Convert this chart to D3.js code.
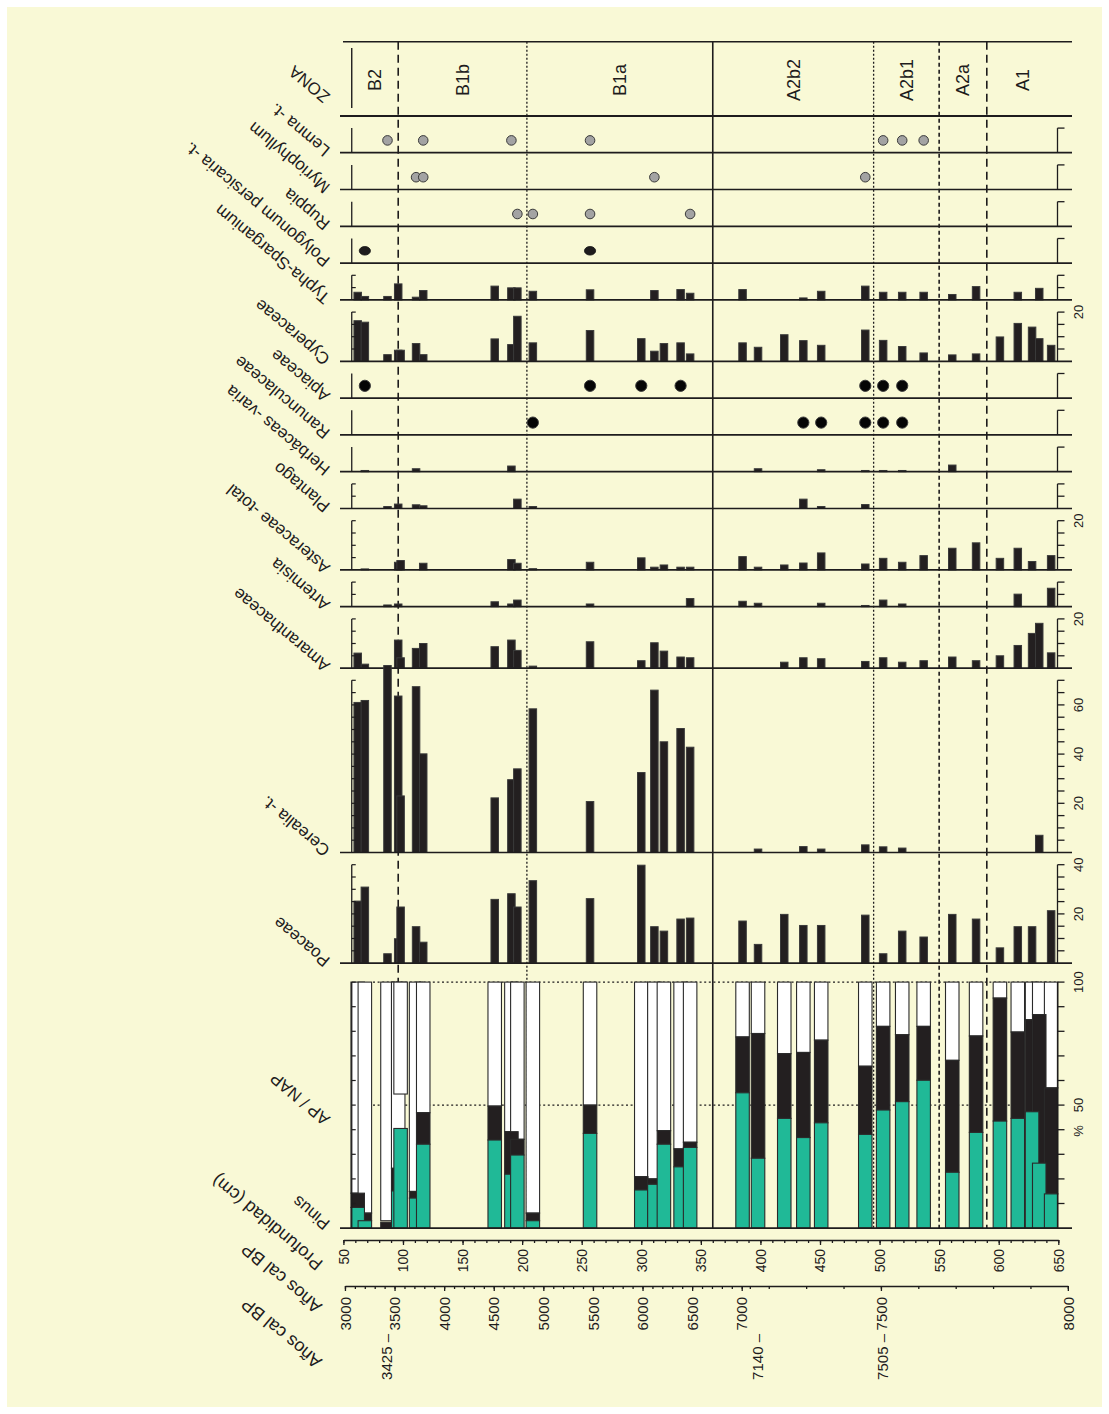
<!DOCTYPE html>
<html>
<head>
<meta charset="utf-8">
<script src="https://cdn.jsdelivr.net/npm/d3@7"></script>
<style>
  body { margin: 0; background: #ffffff; }
  svg { display: block; }
</style>
</head>
<body>
<svg id="chart" width="1109" height="1414"></svg>
<script>
// ---- Sample depths (cm) ----
const depths = [62,68,87,96,98,111,117,177,191,196,209,257,300,311,319,333,341,385,398,420,436,451,488,503,519,537,561,581,601,616,628,634,644];

// ---- Presence records (1 = present) ----
const lemna         = [0,0,1,0,0,0,1,0,1,0,0,1,0,0,0,0,0,0,0,0,0,0,0,1,1,1,0,0,0,0,0,0,0];
const myriophyllum  = [0,0,0,0,0,1,1,0,0,0,0,0,0,1,0,0,0,0,0,0,0,0,1,0,0,0,0,0,0,0,0,0,0];
const ruppia        = [0,0,0,0,0,0,0,0,0,1,1,1,0,0,0,0,1,0,0,0,0,0,0,0,0,0,0,0,0,0,0,0,0];
const polygonum     = [0,1,0,0,0,0,0,0,0,0,0,1,0,0,0,0,0,0,0,0,0,0,0,0,0,0,0,0,0,0,0,0,0];
const apiaceae      = [0,1,0,0,0,0,0,0,0,0,0,1,1,0,0,1,0,0,0,0,0,0,1,1,1,0,0,0,0,0,0,0,0];
const ranunculaceae = [0,0,0,0,0,0,0,0,0,0,1,0,0,0,0,0,0,0,0,0,1,1,1,1,1,0,0,0,0,0,0,0,0];

// ---- Percentages ----
const typha         = [3.1,1.4,1.4,6.5,0,1.1,3.8,5.6,4.9,4.9,3.5,4.1,0,3.8,0,4.2,2.7,4.2,0,0,0.8,3.5,5.6,3.1,3.1,3.1,2.2,5.4,0,3.1,0,4.7,0];
const cyperaceae    = [16.5,15.9,2.7,4.5,4.5,7.2,2.7,9.1,6.8,18.3,7.5,12.5,9.2,4.1,7.2,7.5,3.0,7.5,5.7,10.8,8.4,6.5,12.7,8.5,6.0,3.4,2.6,3.0,9.9,15.4,13.9,9.2,6.5];
const herbaceas     = [0,0.5,0,0,0,1.2,0,0,2.3,0,0,0,0,0,0,0,0,0,1.2,0,0,0.8,0.5,0.5,0.5,0,2.7,0,0,0,0,0,0];
const plantago      = [0,0,0.8,1.8,0,1.5,1.1,0,0,3.8,0.8,0,0,0,0,0,0,0,0,0,3.8,0.8,1.6,0,0,0,0,0,0,0,0,0,0];
const asteraceae    = [0,0.4,0,3.1,3.8,0,2.7,0,4.2,2.7,0.5,3.1,4.9,1.1,2.0,1.1,1.1,5.4,1.1,2.0,2.8,6.9,2.4,4.7,3.1,5.8,8.8,11.0,4.7,8.8,3.4,0,5.8];
const artemisia     = [0,0,0.7,1.1,0,0,0,2.0,1.1,2.7,0,1.1,0,0,0,0,3.3,2.2,1.4,0,0,1.4,0.5,2.7,1.1,0,0,0,0,5.1,0,0,7.5];
const amaranthaceae = [6.1,1.6,0,11.4,4.2,8.0,10.0,8.7,11.4,7.2,0.8,10.7,3.0,10.3,6.9,4.5,4.2,0,0,2.4,4.2,3.8,2.7,4.2,2.4,3.0,4.5,3.0,5.0,9.2,14.1,18.2,6.2];
const cerealia      = [61.0,61.8,76.0,63.6,23.0,67.4,40.1,22.2,29.6,34.0,58.4,20.7,32.5,66.0,45.0,50.4,42.8,0,1.4,0,2.4,1.4,3.1,2.3,1.8,0,0,0,0,0,0,7.0,0];
const poaceae       = [25.2,30.9,3.8,9.9,22.8,14.8,8.5,25.9,28.2,22.8,33.5,26.2,39.8,14.8,13.0,17.9,18.3,17.1,7.6,19.8,15.3,15.3,19.5,3.8,13.0,10.6,19.8,17.9,6.2,14.8,14.8,0,21.3];

// ---- AP / NAP (%) ----
const pinus   = [8.4,3.0,0,15.1,40.5,12.2,34.1,35.8,21.9,29.7,3.0,38.5,15.5,17.8,34.1,24.9,32.8,55.0,28.4,44.6,36.8,42.8,38.1,48.0,51.4,60.1,22.7,38.9,43.5,44.6,47.3,26.4,13.9];
const apTotal = [14.2,6.1,2.4,24.3,40.5,14.9,46.9,49.6,39.2,36.1,6.1,50.0,20.9,20.0,39.6,32.2,34.9,77.7,79.1,70.9,71.4,76.4,65.8,82.0,78.6,82.0,68.2,78.1,93.5,79.7,84.7,86.8,57.0];
const nap     = [85.8,93.9,97.0,75.7,45.5,85.1,53.1,50.4,60.8,63.9,93.9,50.0,79.1,80.0,60.4,67.8,65.1,22.3,20.9,29.1,28.6,23.6,34.2,18.0,21.4,18.0,31.8,21.9,6.5,20.3,15.3,13.2,43.0];

// ---- Zones ----
const zoneNames  = ["B2","B1b","B1a","A2b2","A2b1","A2a","A1"];
const zoneLimits = [96,204,360,495,550,590];
const zoneStyles = ["long","dotted","solid","dotted","short","long"];

// ---- Axis tick labels ----
const depthTicks = [50,100,150,200,250,300,350,400,450,500,550,600,650];
const ageTicks   = [3000,3500,4000,4500,5000,5500,6000,6500,7000,7500,8000];
const ageModelAge   = [3000,7000,7100,7200,8000];
const ageModelDepth = [51.3,384.3,391.1,407.0,658.0];
const dates = [3425,7140,7505];
const cyperaceaeTicks = [20];
const asteraceaeTicks = [20];
const amaranthTicks   = [20];
const cerealiaTicks   = [20,40,60];
const poaceaeTicks    = [20,40];
const apTicks         = [50,100];

// ---------------------------------------------------------------
const svg = d3.select("#chart");
const FONT = "'Liberation Sans', Arial, sans-serif";
const NARROW = "'Liberation Sans Narrow', 'Arial Narrow', 'Liberation Sans', sans-serif";
const INK = "#1e1c1d";
const TEAL = "#20b997";
const PAPER = "#f9f9d6";

svg.append("rect").attr("x", 7).attr("y", 7).attr("width", 1095).attr("height", 1400).attr("fill", PAPER);

const x = d3.scaleLinear().domain([50, 650]).range([343.4, 1058.3]);
const depthStart = 57;
const xL = x(depthStart);
const xR = 1057.5;
const lineL = 340, lineR = 1072;
const k = 2.46;          // pixels per percent
const gap = 12.2;

// panel definitions, top to bottom
const panels = [
  {label: "Lemna -t.", kind: "dot", values: lemna, max: 10, fill: "#a3a3a3"},
  {label: "Myriophyllum", kind: "dot", values: myriophyllum, max: 10, fill: "#a3a3a3"},
  {label: "Ruppia", kind: "dot", values: ruppia, max: 10, fill: "#a3a3a3"},
  {label: "Polygonum persicaria -t.", kind: "dot", values: polygonum, max: 10, fill: INK, ellipse: true},
  {label: "Typha-Sparganium", kind: "bar", values: typha, max: 10, step: 5},
  {label: "Cyperaceae", kind: "bar", values: cyperaceae, max: 20, step: 5, labels: cyperaceaeTicks},
  {label: "Apiaceae", kind: "dot", values: apiaceae, max: 10, fill: "#050505"},
  {label: "Ranunculaceae", kind: "dot", values: ranunculaceae, max: 10, fill: "#050505"},
  {label: "Herbáceas -varia", kind: "bar", values: herbaceas, max: 10},
  {label: "Plantago", kind: "bar", values: plantago, max: 10, step: 5},
  {label: "Asteraceae -total", kind: "bar", values: asteraceae, max: 20, step: 5, labels: asteraceaeTicks},
  {label: "Artemisia", kind: "bar", values: artemisia, max: 10, step: 5},
  {label: "Amaranthaceae", kind: "bar", values: amaranthaceae, max: 20, step: 5, labels: amaranthTicks},
  {label: "Cerealia -t.", kind: "bar", values: cerealia, max: 70, step: 5, labels: cerealiaTicks},
  {label: "Poaceae", kind: "bar", values: poaceae, max: 40, step: 5, labels: poaceaeTicks},
  {label: "AP / NAP", kind: "apnap", max: 100, step: 10, labels: apTicks, extraGap: 6.8}
];

const zonaTop = 41.7, zonaBottom = 116;
let cursor = zonaBottom - 0.1;
panels.forEach(p => {
  p.top = cursor + gap + (p.extraGap || 0);
  p.base = p.top + p.max * k;
  p.y = d3.scaleLinear().domain([0, p.max]).range([p.base, p.top]);
  cursor = p.base;
});
const bottomY = panels[panels.length - 1].base;

// ---- zone boundaries (behind everything) ----
const dashFor = {long: "8,5", dotted: "2,2", solid: null, short: "4,3"};
const gZones = svg.append("g");
zoneLimits.forEach((d, i) => {
  gZones.append("line")
    .attr("x1", x(d)).attr("x2", x(d))
    .attr("y1", zonaTop).attr("y2", bottomY)
    .attr("stroke", INK)
    .attr("stroke-width", zoneStyles[i] === "dotted" ? 1.3 : 1.6)
    .attr("stroke-dasharray", dashFor[zoneStyles[i]]);
});

// ---- ZONA strip ----
svg.append("line").attr("x1", 343).attr("x2", lineR).attr("y1", zonaTop).attr("y2", zonaTop)
  .attr("stroke", INK).attr("stroke-width", 1.6);
svg.append("line").attr("x1", lineL).attr("x2", lineR).attr("y1", zonaBottom).attr("y2", zonaBottom)
  .attr("stroke", INK).attr("stroke-width", 1.8);
svg.append("line").attr("x1", xL).attr("x2", xL).attr("y1", 48).attr("y2", 108)
  .attr("stroke", INK).attr("stroke-width", 1.4);
const zoneEdges = [depthStart, ...zoneLimits, 650];
zoneNames.forEach((z, i) => {
  const cx = (x(zoneEdges[i]) + x(zoneEdges[i + 1])) / 2;
  svg.append("text")
    .attr("transform", `translate(${cx},80) rotate(-90)`)
    .attr("text-anchor", "middle").attr("dy", "0.35em")
    .attr("font-family", NARROW).attr("font-size", 18).attr("fill", INK)
    .text(z);
});

// upside-down slanted labels on the left
function sideLabel(text, ax, ay, size) {
  svg.append("text")
    .attr("transform", `translate(${ax},${ay}) rotate(220)`)
    .attr("text-anchor", "start")
    .attr("font-family", FONT).attr("font-size", size || 17).attr("fill", INK)
    .text(text);
}
sideLabel("ZONA", 331, 95);

// ---- panels ----
const barW = 7.5, apW = 13.5;
panels.forEach(p => {
  const g = svg.append("g");
  if (p.kind === "apnap") {
    // reference lines at 50 % and 100 %
    [50, 100].forEach(v => {
      g.append("line").attr("x1", 373).attr("x2", xR)
        .attr("y1", p.y(v)).attr("y2", p.y(v))
        .attr("stroke", INK).attr("stroke-width", 1.3).attr("stroke-dasharray", "2,2.6");
    });
    const rows = depths.map((d, i) => ({d, p: pinus[i], a: apTotal[i], n: nap[i]}));
    // white NAP layer
    g.selectAll(".nap").data(rows).join("rect")
      .attr("x", r => x(r.d) - apW / 2).attr("width", apW)
      .attr("y", r => p.y(100)).attr("height", r => p.y(100 - r.n) - p.y(100))
      .attr("fill", "#ffffff").attr("stroke", "#2a2a2a").attr("stroke-width", 1.1);
    // black AP layer
    g.selectAll(".ap").data(rows.filter(r => r.a > r.p)).join("rect")
      .attr("x", r => x(r.d) - apW / 2).attr("width", apW)
      .attr("y", r => p.y(r.a)).attr("height", r => p.y(r.p) - p.y(r.a))
      .attr("fill", "#231f20").attr("stroke", "#2a2a2a").attr("stroke-width", 1.1);
    // teal Pinus layer
    g.selectAll(".pin").data(rows.filter(r => r.p > 0)).join("rect")
      .attr("x", r => x(r.d) - apW / 2).attr("width", apW)
      .attr("y", r => p.y(r.p)).attr("height", r => p.base - p.y(r.p))
      .attr("fill", TEAL).attr("stroke", "#2a2a2a").attr("stroke-width", 1.1);
  } else if (p.kind === "bar") {
    const rows = depths.map((d, i) => ({d, v: p.values[i]})).filter(r => r.v > 0);
    g.selectAll("rect").data(rows).join("rect")
      .attr("x", r => x(r.d) - barW / 2).attr("width", barW)
      .attr("y", r => p.y(r.v)).attr("height", r => p.base - p.y(r.v))
      .attr("fill", "#231f20").attr("stroke", "#3a3a3a").attr("stroke-width", 1);
  } else {
    const rows = depths.filter((d, i) => p.values[i]);
    const cy = p.y(p.max / 2);
    if (p.ellipse) {
      g.selectAll("ellipse").data(rows).join("ellipse")
        .attr("cx", d => x(d)).attr("cy", cy).attr("rx", 5.6).attr("ry", 4.3)
        .attr("fill", p.fill).attr("stroke", "#111").attr("stroke-width", 0.8);
    } else {
      g.selectAll("circle").data(rows).join("circle")
        .attr("cx", d => x(d)).attr("cy", cy).attr("r", p.fill === "#a3a3a3" ? 4.8 : 5.6)
        .attr("fill", p.fill).attr("stroke", "#3a3a3a").attr("stroke-width", 1);
    }
  }

  // baseline
  g.append("line").attr("x1", lineL).attr("x2", lineR).attr("y1", p.base).attr("y2", p.base)
    .attr("stroke", INK).attr("stroke-width", 1.7);

  // left axis
  g.append("line").attr("x1", xL).attr("x2", xL).attr("y1", p.base).attr("y2", p.top)
    .attr("stroke", INK).attr("stroke-width", 1.3);
  // right axis
  g.append("line").attr("x1", xR).attr("x2", xR).attr("y1", p.base).attr("y2", p.top)
    .attr("stroke", INK).attr("stroke-width", 1.3);
  const tickVals = p.step ? d3.range(p.step, p.max + 0.01, p.step) : [p.max];
  tickVals.forEach(v => {
    g.append("line").attr("x1", xR).attr("x2", xR + 7).attr("y1", p.y(v)).attr("y2", p.y(v))
      .attr("stroke", INK).attr("stroke-width", 1.3);
    if (p.step) {
      g.append("line").attr("x1", xL).attr("x2", xL + 4).attr("y1", p.y(v)).attr("y2", p.y(v))
        .attr("stroke", INK).attr("stroke-width", 1.2);
    }
  });
  (p.labels || []).forEach(v => {
    g.append("text")
      .attr("transform", `translate(1078,${p.y(v)}) rotate(-90)`)
      .attr("text-anchor", "middle").attr("dy", "0.35em")
      .attr("font-family", NARROW).attr("font-size", 13).attr("fill", INK)
      .text(v);
  });
  if (p.kind === "apnap") {
    g.append("text")
      .attr("transform", `translate(1078,${p.y(39.5)}) rotate(-90)`)
      .attr("text-anchor", "middle").attr("dy", "0.35em")
      .attr("font-family", NARROW).attr("font-size", 13).attr("fill", INK)
      .text("%");
    sideLabel("AP / NAP", 331, p.y(45));
    sideLabel("Pinus", 331, p.base - 6);
  } else {
    sideLabel(p.label, 331, p.base - 4);
  }
});

// ---- depth axis ----
const depthAxisY = 1240;
const gD = svg.append("g").attr("transform", `translate(0,${depthAxisY})`);
gD.call(d3.axisBottom(x).tickValues(d3.range(50, 651, 10)).tickSize(3).tickFormat(""));
gD.call(g2 => g2.select(".domain").remove());
const gD2 = svg.append("g").attr("transform", `translate(0,${depthAxisY})`);
gD2.call(d3.axisBottom(x).tickValues(depthTicks).tickSize(5).tickSizeOuter(0));
gD2.select(".domain").attr("stroke", INK).attr("stroke-width", 1.6);
[gD, gD2].forEach(g2 => g2.selectAll("line").attr("stroke", INK).attr("stroke-width", 1.3));
gD2.selectAll("text")
  .attr("transform", "rotate(-90)").attr("text-anchor", "end")
  .attr("x", -9).attr("y", 0).attr("dy", "0.35em")
  .attr("font-family", NARROW).attr("font-size", 14).attr("fill", INK);
sideLabel("Profundidad (cm)", 324, 1262, 18);

// ---- age axis ----
const ageScale = d3.scaleLinear().domain(ageModelAge).range(ageModelDepth.map(d => x(d)));
const ageAxisY = 1286;
const gA = svg.append("g").attr("transform", `translate(0,${ageAxisY})`);
gA.call(d3.axisBottom(ageScale).tickValues(d3.range(3000, 8001, 100)).tickSize(3).tickFormat(""));
gA.select(".domain").remove();
const gA2 = svg.append("g").attr("transform", `translate(0,${ageAxisY})`);
gA2.call(d3.axisBottom(ageScale).tickValues(ageTicks).tickSize(5).tickSizeOuter(0).tickFormat(d3.format("d")));
gA2.select(".domain").attr("stroke", INK).attr("stroke-width", 1.6);
[gA, gA2].forEach(g2 => g2.selectAll("line").attr("stroke", INK).attr("stroke-width", 1.3));
gA2.selectAll("text")
  .attr("transform", "rotate(-90)").attr("text-anchor", "end")
  .attr("x", -11).attr("y", 0).attr("dy", "0.35em")
  .attr("font-family", NARROW).attr("font-size", 15).attr("fill", INK);
sideLabel("Años cal BP", 323, 1305, 18);

// ---- calibrated dates ----
dates.forEach(a => {
  svg.append("text")
    .attr("transform", `translate(${ageScale(a)},1334) rotate(-90)`)
    .attr("text-anchor", "end").attr("dy", "0.35em")
    .attr("font-family", NARROW).attr("font-size", 15).attr("fill", INK)
    .text(a + " \u2013");
});
sideLabel("Años cal BP", 323, 1360, 18);
</script>
</body>
</html>
